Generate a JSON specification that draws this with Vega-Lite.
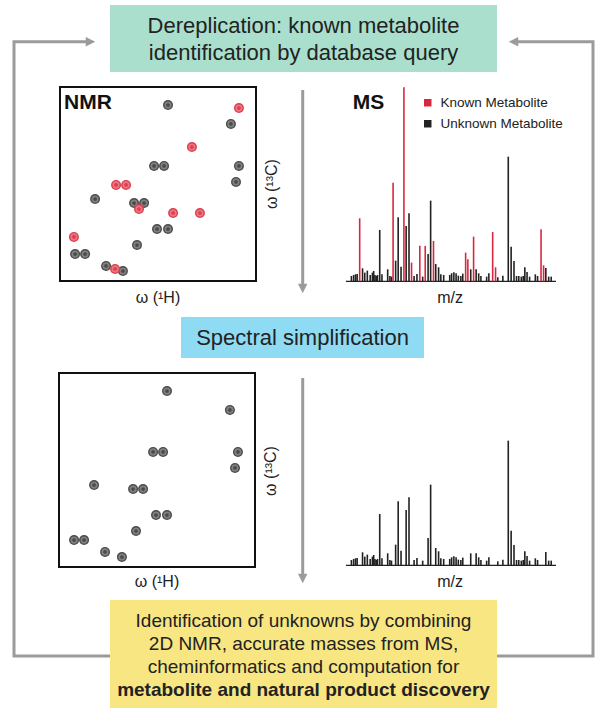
{
  "$schema": "https://vega.github.io/schema/vega-lite/v6.json",
  "width": 602,
  "height": 715,
  "autosize": "none",
  "padding": 0,
  "background": "white",
  "config": {"view": {"stroke": null}, "font": "Liberation Sans", "text": {"font": "Liberation Sans"}},
  "datasets": {
    "boxes": [
      {"box": "Dereplication", "x": 110, "x2": 497, "y": 5, "y2": 72},
      {"box": "Simplification", "x": 181, "x2": 424, "y": 317, "y2": 358},
      {"box": "Discovery", "x": 110, "x2": 497, "y": 600, "y2": 708}
    ],
    "links": [
      {"path": "loopL", "seq": 1, "x": 88, "y": 41.7},
      {"path": "loopL", "seq": 2, "x": 14, "y": 41.7},
      {"path": "loopL", "seq": 3, "x": 14, "y": 656},
      {"path": "loopL", "seq": 4, "x": 110, "y": 656},
      {"path": "loopR", "seq": 1, "x": 515, "y": 41.7},
      {"path": "loopR", "seq": 2, "x": 593, "y": 41.7},
      {"path": "loopR", "seq": 3, "x": 593, "y": 656},
      {"path": "loopR", "seq": 4, "x": 497, "y": 656},
      {"path": "down1", "seq": 1, "x": 302.7, "y": 90},
      {"path": "down1", "seq": 2, "x": 302.7, "y": 286},
      {"path": "down2", "seq": 1, "x": 302.7, "y": 378},
      {"path": "down2", "seq": 2, "x": 302.7, "y": 576}
    ],
    "heads": [
      {"dir": "right", "x": 90.5, "y": 41.7},
      {"dir": "left", "x": 513.5, "y": 41.7},
      {"dir": "down", "x": 302.7, "y": 288.5},
      {"dir": "down", "x": 302.7, "y": 578.5}
    ],
    "labels": [
      {"role": "title", "x": 303.5, "y": 32.5, "text": "Dereplication: known metabolite"},
      {"role": "title", "x": 303.5, "y": 59.5, "text": "identification by database query"},
      {"role": "title", "x": 302.5, "y": 345, "text": "Spectral simplification"},
      {"role": "body", "x": 303.5, "y": 627, "text": "Identification of unknowns by combining"},
      {"role": "body", "x": 303.5, "y": 650, "text": "2D NMR, accurate masses from MS,"},
      {"role": "body", "x": 303.5, "y": 673, "text": "cheminformatics and computation for"},
      {"role": "bold", "x": 303.5, "y": 696, "text": "metabolite and natural product discovery"}
    ],
    "nmr": [
      {"H": 4.49, "C": 18.6, "type": "Unknown Metabolite"},
      {"H": 1.28, "C": 38.1, "type": "Unknown Metabolite"},
      {"H": 5.20, "C": 81.4, "type": "Unknown Metabolite"},
      {"H": 4.69, "C": 81.4, "type": "Unknown Metabolite"},
      {"H": 0.87, "C": 81.4, "type": "Unknown Metabolite"},
      {"H": 1.02, "C": 97.9, "type": "Unknown Metabolite"},
      {"H": 8.21, "C": 115.5, "type": "Unknown Metabolite"},
      {"H": 6.22, "C": 119.6, "type": "Unknown Metabolite"},
      {"H": 5.71, "C": 119.6, "type": "Unknown Metabolite"},
      {"H": 5.05, "C": 146.4, "type": "Unknown Metabolite"},
      {"H": 4.49, "C": 146.4, "type": "Unknown Metabolite"},
      {"H": 6.07, "C": 162.9, "type": "Unknown Metabolite"},
      {"H": 9.23, "C": 172.2, "type": "Unknown Metabolite"},
      {"H": 8.72, "C": 172.2, "type": "Unknown Metabolite"},
      {"H": 7.65, "C": 184.5, "type": "Unknown Metabolite"},
      {"H": 6.79, "C": 189.7, "type": "Unknown Metabolite"},
      {"H": 0.87, "C": 21.7, "type": "Known Metabolite"},
      {"H": 3.27, "C": 61.9, "type": "Known Metabolite"},
      {"H": 7.14, "C": 101.0, "type": "Known Metabolite"},
      {"H": 6.63, "C": 101.0, "type": "Known Metabolite"},
      {"H": 5.97, "C": 125.8, "type": "Known Metabolite"},
      {"H": 4.23, "C": 129.9, "type": "Known Metabolite"},
      {"H": 2.86, "C": 129.9, "type": "Known Metabolite"},
      {"H": 9.29, "C": 154.6, "type": "Known Metabolite"},
      {"H": 7.19, "C": 187.6, "type": "Known Metabolite"}
    ],
    "ms": [
      {"mz": 140, "intensity": 16, "type": "Unknown Metabolite"},
      {"mz": 147, "intensity": 19, "type": "Unknown Metabolite"},
      {"mz": 153, "intensity": 21, "type": "Unknown Metabolite"},
      {"mz": 158, "intensity": 22, "type": "Unknown Metabolite"},
      {"mz": 166, "intensity": 189, "type": "Known Metabolite"},
      {"mz": 175, "intensity": 39, "type": "Unknown Metabolite"},
      {"mz": 182, "intensity": 26, "type": "Unknown Metabolite"},
      {"mz": 190, "intensity": 32, "type": "Unknown Metabolite"},
      {"mz": 199, "intensity": 19, "type": "Unknown Metabolite"},
      {"mz": 206, "intensity": 26, "type": "Unknown Metabolite"},
      {"mz": 210, "intensity": 31, "type": "Unknown Metabolite"},
      {"mz": 214, "intensity": 19, "type": "Unknown Metabolite"},
      {"mz": 218, "intensity": 16, "type": "Unknown Metabolite"},
      {"mz": 222, "intensity": 19, "type": "Unknown Metabolite"},
      {"mz": 229, "intensity": 154, "type": "Unknown Metabolite"},
      {"mz": 236, "intensity": 21, "type": "Unknown Metabolite"},
      {"mz": 254, "intensity": 36, "type": "Unknown Metabolite"},
      {"mz": 261, "intensity": 16, "type": "Unknown Metabolite"},
      {"mz": 266, "intensity": 14, "type": "Unknown Metabolite"},
      {"mz": 271, "intensity": 296, "type": "Known Metabolite"},
      {"mz": 279, "intensity": 62, "type": "Unknown Metabolite"},
      {"mz": 287, "intensity": 192, "type": "Unknown Metabolite"},
      {"mz": 296, "intensity": 44, "type": "Unknown Metabolite"},
      {"mz": 305, "intensity": 582, "type": "Known Metabolite"},
      {"mz": 312, "intensity": 166, "type": "Unknown Metabolite"},
      {"mz": 321, "intensity": 204, "type": "Unknown Metabolite"},
      {"mz": 329, "intensity": 56, "type": "Known Metabolite"},
      {"mz": 337, "intensity": 16, "type": "Unknown Metabolite"},
      {"mz": 346, "intensity": 22, "type": "Unknown Metabolite"},
      {"mz": 355, "intensity": 107, "type": "Known Metabolite"},
      {"mz": 364, "intensity": 14, "type": "Unknown Metabolite"},
      {"mz": 372, "intensity": 106, "type": "Known Metabolite"},
      {"mz": 381, "intensity": 82, "type": "Unknown Metabolite"},
      {"mz": 389, "intensity": 242, "type": "Unknown Metabolite"},
      {"mz": 398, "intensity": 121, "type": "Known Metabolite"},
      {"mz": 405, "intensity": 52, "type": "Unknown Metabolite"},
      {"mz": 414, "intensity": 42, "type": "Unknown Metabolite"},
      {"mz": 421, "intensity": 21, "type": "Unknown Metabolite"},
      {"mz": 430, "intensity": 19, "type": "Unknown Metabolite"},
      {"mz": 449, "intensity": 19, "type": "Unknown Metabolite"},
      {"mz": 455, "intensity": 24, "type": "Unknown Metabolite"},
      {"mz": 462, "intensity": 27, "type": "Unknown Metabolite"},
      {"mz": 469, "intensity": 24, "type": "Unknown Metabolite"},
      {"mz": 476, "intensity": 17, "type": "Unknown Metabolite"},
      {"mz": 484, "intensity": 16, "type": "Unknown Metabolite"},
      {"mz": 490, "intensity": 23, "type": "Unknown Metabolite"},
      {"mz": 499, "intensity": 86, "type": "Known Metabolite"},
      {"mz": 506, "intensity": 66, "type": "Known Metabolite"},
      {"mz": 515, "intensity": 36, "type": "Unknown Metabolite"},
      {"mz": 524, "intensity": 134, "type": "Known Metabolite"},
      {"mz": 532, "intensity": 36, "type": "Unknown Metabolite"},
      {"mz": 540, "intensity": 24, "type": "Unknown Metabolite"},
      {"mz": 547, "intensity": 16, "type": "Unknown Metabolite"},
      {"mz": 565, "intensity": 14, "type": "Unknown Metabolite"},
      {"mz": 572, "intensity": 24, "type": "Unknown Metabolite"},
      {"mz": 584, "intensity": 148, "type": "Known Metabolite"},
      {"mz": 593, "intensity": 42, "type": "Known Metabolite"},
      {"mz": 600, "intensity": 12, "type": "Unknown Metabolite"},
      {"mz": 616, "intensity": 17, "type": "Unknown Metabolite"},
      {"mz": 633, "intensity": 374, "type": "Unknown Metabolite"},
      {"mz": 642, "intensity": 104, "type": "Unknown Metabolite"},
      {"mz": 651, "intensity": 61, "type": "Unknown Metabolite"},
      {"mz": 659, "intensity": 16, "type": "Unknown Metabolite"},
      {"mz": 666, "intensity": 16, "type": "Unknown Metabolite"},
      {"mz": 674, "intensity": 14, "type": "Unknown Metabolite"},
      {"mz": 680, "intensity": 16, "type": "Unknown Metabolite"},
      {"mz": 685, "intensity": 42, "type": "Unknown Metabolite"},
      {"mz": 692, "intensity": 28, "type": "Unknown Metabolite"},
      {"mz": 700, "intensity": 14, "type": "Unknown Metabolite"},
      {"mz": 718, "intensity": 21, "type": "Unknown Metabolite"},
      {"mz": 725, "intensity": 16, "type": "Unknown Metabolite"},
      {"mz": 736, "intensity": 156, "type": "Known Metabolite"},
      {"mz": 744, "intensity": 48, "type": "Known Metabolite"},
      {"mz": 751, "intensity": 40, "type": "Unknown Metabolite"},
      {"mz": 760, "intensity": 14, "type": "Unknown Metabolite"},
      {"mz": 768, "intensity": 14, "type": "Unknown Metabolite"}
    ]
  },
  "resolve": {"scale": {"x": "independent", "y": "independent", "fill": "independent", "color": "independent", "shape": "independent"}},
  "layer": [
    {
      "layer": [
        {
          "data": {"name": "boxes"},
          "mark": {"type": "rect"},
          "encoding": {
            "x": {"field": "x", "type": "quantitative", "scale": {"domain": [0, 602], "range": [0, 602], "nice": false, "zero": false}, "axis": null},
            "x2": {"field": "x2"},
            "y": {"field": "y", "type": "quantitative", "scale": {"domain": [0, 715], "range": [0, 715], "nice": false, "zero": false}, "axis": null},
            "y2": {"field": "y2"},
            "fill": {"field": "box", "type": "nominal", "scale": {"domain": ["Dereplication", "Simplification", "Discovery"], "range": ["#a9dfcc", "#8fdbf4", "#f8e683"]}, "legend": null}
          }
        },
        {
          "data": {"name": "links"},
          "mark": {"type": "line", "stroke": "#9b9b9b", "strokeWidth": 3, "strokeJoin": "miter", "strokeCap": "butt"},
          "encoding": {
            "x": {"field": "x", "type": "quantitative"},
            "y": {"field": "y", "type": "quantitative"},
            "detail": {"field": "path"},
            "order": {"field": "seq", "type": "quantitative"}
          }
        },
        {
          "data": {"name": "heads"},
          "mark": {"type": "point", "filled": true, "color": "#9b9b9b", "opacity": 1, "size": 90},
          "encoding": {
            "x": {"field": "x", "type": "quantitative"},
            "y": {"field": "y", "type": "quantitative"},
            "shape": {"field": "dir", "type": "nominal", "scale": {"domain": ["right", "left", "down"], "range": ["M-1,-1L1,0L-1,1Z", "M1,-1L-1,0L1,1Z", "M-1,-1L1,-1L0,1Z"]}, "legend": null}
          }
        },
        {
          "data": {"name": "labels"},
          "transform": [{"filter": "datum.role === 'title'"}],
          "mark": {"type": "text", "fontSize": 22, "color": "#222", "align": "center", "baseline": "alphabetic"},
          "encoding": {"x": {"field": "x", "type": "quantitative"}, "y": {"field": "y", "type": "quantitative"}, "text": {"field": "text"}}
        },
        {
          "data": {"name": "labels"},
          "transform": [{"filter": "datum.role === 'body'"}],
          "mark": {"type": "text", "fontSize": 19, "color": "#222", "align": "center", "baseline": "alphabetic"},
          "encoding": {"x": {"field": "x", "type": "quantitative"}, "y": {"field": "y", "type": "quantitative"}, "text": {"field": "text"}}
        },
        {
          "data": {"name": "labels"},
          "transform": [{"filter": "datum.role === 'bold'"}],
          "mark": {"type": "text", "fontSize": 19, "fontWeight": "bold", "color": "#222", "align": "center", "baseline": "alphabetic"},
          "encoding": {"x": {"field": "x", "type": "quantitative"}, "y": {"field": "y", "type": "quantitative"}, "text": {"field": "text"}}
        }
      ]
    },
    {
      "data": {"name": "nmr"},
      "layer": [
        {
          "data": {"values": [{}]},
          "mark": {"type": "rect", "filled": false, "color": "#111", "strokeWidth": 2},
          "encoding": {
            "x": {"datum": 10, "type": "quantitative", "scale": {"domain": [0, 10], "range": [256, 60], "nice": false, "zero": false}, "axis": null},
            "x2": {"datum": 0},
            "y": {"datum": 0, "type": "quantitative", "scale": {"domain": [0, 200], "range": [87, 281], "nice": false, "zero": false}, "axis": null},
            "y2": {"datum": 200}
          }
        },
        {
          "transform": [{"filter": "datum.type === 'Unknown Metabolite'"}],
          "mark": {"type": "point", "filled": true, "opacity": 1, "size": 100},
          "encoding": {"x": {"field": "H", "type": "quantitative"}, "y": {"field": "C", "type": "quantitative"},
            "fill": {"field": "type", "type": "nominal", "scale": {"domain": ["Known Metabolite", "Unknown Metabolite"], "range": ["#de3d4c", "#4a4a4a"]}, "legend": null}}
        },
        {
          "transform": [{"filter": "datum.type === 'Unknown Metabolite'"}],
          "mark": {"type": "point", "filled": true, "fill": "white", "opacity": 0.3, "size": 52},
          "encoding": {"x": {"field": "H", "type": "quantitative"}, "y": {"field": "C", "type": "quantitative"}}
        },
        {
          "transform": [{"filter": "datum.type === 'Unknown Metabolite'"}],
          "mark": {"type": "point", "filled": true, "opacity": 1, "size": 14},
          "encoding": {"x": {"field": "H", "type": "quantitative"}, "y": {"field": "C", "type": "quantitative"},
            "fill": {"field": "type", "type": "nominal", "legend": null}}
        },
        {
          "transform": [{"filter": "datum.type === 'Known Metabolite'"}],
          "mark": {"type": "point", "filled": true, "opacity": 1, "size": 100},
          "encoding": {"x": {"field": "H", "type": "quantitative"}, "y": {"field": "C", "type": "quantitative"},
            "fill": {"field": "type", "type": "nominal", "legend": null}}
        },
        {
          "transform": [{"filter": "datum.type === 'Known Metabolite'"}],
          "mark": {"type": "point", "filled": true, "fill": "white", "opacity": 0.3, "size": 52},
          "encoding": {"x": {"field": "H", "type": "quantitative"}, "y": {"field": "C", "type": "quantitative"}}
        },
        {
          "transform": [{"filter": "datum.type === 'Known Metabolite'"}],
          "mark": {"type": "point", "filled": true, "opacity": 1, "size": 14},
          "encoding": {"x": {"field": "H", "type": "quantitative"}, "y": {"field": "C", "type": "quantitative"},
            "fill": {"field": "type", "type": "nominal", "legend": null}}
        },
        {
          "data": {"values": [{}]},
          "mark": {"type": "text", "text": "NMR", "fontSize": 21, "fontWeight": "bold", "color": "#111", "align": "left", "baseline": "alphabetic", "dx": 4, "dy": 22},
          "encoding": {"x": {"datum": 10, "type": "quantitative"}, "y": {"datum": 0, "type": "quantitative"}}
        },
        {
          "data": {"values": [{}]},
          "mark": {"type": "text", "text": "ω (¹H)", "fontSize": 16, "color": "#222", "align": "center", "baseline": "middle"},
          "encoding": {"x": {"datum": 5, "type": "quantitative"}, "y": {"datum": 217.5, "type": "quantitative"}}
        },
        {
          "data": {"values": [{}]},
          "mark": {"type": "text", "text": "ω (¹³C)", "fontSize": 16, "color": "#222", "align": "center", "baseline": "middle", "angle": 270},
          "encoding": {"x": {"datum": -0.8, "type": "quantitative"}, "y": {"datum": 100, "type": "quantitative"}}
        }
      ]
    },
    {
      "data": {"name": "nmr"},
      "transform": [{"filter": "datum.type === 'Unknown Metabolite'"}],
      "layer": [
        {
          "data": {"values": [{}]},
          "mark": {"type": "rect", "filled": false, "color": "#111", "strokeWidth": 2},
          "encoding": {
            "x": {"datum": 10, "type": "quantitative", "scale": {"domain": [0, 10], "range": [255, 59], "nice": false, "zero": false}, "axis": null},
            "x2": {"datum": 0},
            "y": {"datum": 0, "type": "quantitative", "scale": {"domain": [0, 200], "range": [373, 567], "nice": false, "zero": false}, "axis": null},
            "y2": {"datum": 200}
          }
        },
        {
          "mark": {"type": "point", "filled": true, "opacity": 1, "size": 100, "fill": "#4a4a4a"},
          "encoding": {"x": {"field": "H", "type": "quantitative"}, "y": {"field": "C", "type": "quantitative"}}
        },
        {
          "mark": {"type": "point", "filled": true, "fill": "white", "opacity": 0.3, "size": 52},
          "encoding": {"x": {"field": "H", "type": "quantitative"}, "y": {"field": "C", "type": "quantitative"}}
        },
        {
          "mark": {"type": "point", "filled": true, "opacity": 1, "size": 14, "fill": "#4a4a4a"},
          "encoding": {"x": {"field": "H", "type": "quantitative"}, "y": {"field": "C", "type": "quantitative"}}
        },
        {
          "data": {"values": [{}]},
          "mark": {"type": "text", "text": "ω (¹H)", "fontSize": 16, "color": "#222", "align": "center", "baseline": "middle"},
          "encoding": {"x": {"datum": 5, "type": "quantitative"}, "y": {"datum": 215, "type": "quantitative"}}
        },
        {
          "data": {"values": [{}]},
          "mark": {"type": "text", "text": "ω (¹³C)", "fontSize": 16, "color": "#222", "align": "center", "baseline": "middle", "angle": 270},
          "encoding": {"x": {"datum": -0.8, "type": "quantitative"}, "y": {"datum": 101, "type": "quantitative"}}
        }
      ]
    },
    {
      "data": {"name": "ms"},
      "layer": [
        {
          "data": {"values": [{}]},
          "mark": {"type": "rule", "color": "#222", "strokeWidth": 1.2},
          "encoding": {
            "x": {"datum": 123, "type": "quantitative", "scale": {"domain": [123, 783], "range": [341, 561], "nice": false, "zero": false}, "axis": null},
            "x2": {"datum": 783},
            "y": {"datum": 0, "type": "quantitative", "scale": {"domain": [0, 582], "range": [281.3, 87.3], "nice": false, "zero": false}, "axis": null}
          }
        },
        {
          "mark": {"type": "bar", "size": 1.6},
          "encoding": {
            "x": {"field": "mz", "type": "quantitative", "title": "m/z"},
            "y": {"field": "intensity", "type": "quantitative"},
            "color": {"field": "type", "type": "nominal", "scale": {"domain": ["Known Metabolite", "Unknown Metabolite"], "range": ["#d8283f", "#222222"]},
              "legend": {"title": null, "orient": "none", "legendX": 421, "legendY": 96, "symbolType": "square", "symbolSize": 56, "symbolStrokeWidth": 0, "symbolOpacity": 1, "labelFontSize": 13.5, "labelFont": "Liberation Sans", "labelColor": "#222", "labelOffset": 6, "rowPadding": 6, "padding": 0, "offset": 0}}
          }
        },
        {
          "data": {"values": [{}]},
          "mark": {"type": "text", "text": "MS", "fontSize": 21, "fontWeight": "bold", "color": "#111", "align": "left", "baseline": "alphabetic"},
          "encoding": {"x": {"datum": 144, "type": "quantitative"}, "y": {"datum": 516, "type": "quantitative"}}
        },
        {
          "data": {"values": [{}]},
          "mark": {"type": "text", "text": "m/z", "fontSize": 16, "color": "#222", "align": "center", "baseline": "middle"},
          "encoding": {"x": {"datum": 450, "type": "quantitative"}, "y": {"datum": -50, "type": "quantitative"}}
        }
      ]
    },
    {
      "data": {"name": "ms"},
      "transform": [{"filter": "datum.type === 'Unknown Metabolite'"}],
      "layer": [
        {
          "data": {"values": [{}]},
          "mark": {"type": "rule", "color": "#222", "strokeWidth": 1.2},
          "encoding": {
            "x": {"datum": 123, "type": "quantitative", "scale": {"domain": [123, 783], "range": [341, 561], "nice": false, "zero": false}, "axis": null},
            "x2": {"datum": 783},
            "y": {"datum": 0, "type": "quantitative", "scale": {"domain": [0, 582], "range": [565.3, 371.3], "nice": false, "zero": false}, "axis": null}
          }
        },
        {
          "mark": {"type": "bar", "size": 1.6, "color": "#222222"},
          "encoding": {
            "x": {"field": "mz", "type": "quantitative", "title": "m/z"},
            "y": {"field": "intensity", "type": "quantitative"}
          }
        },
        {
          "data": {"values": [{}]},
          "mark": {"type": "text", "text": "m/z", "fontSize": 16, "color": "#222", "align": "center", "baseline": "middle"},
          "encoding": {"x": {"datum": 450, "type": "quantitative"}, "y": {"datum": -50, "type": "quantitative"}}
        }
      ]
    }
  ]
}
